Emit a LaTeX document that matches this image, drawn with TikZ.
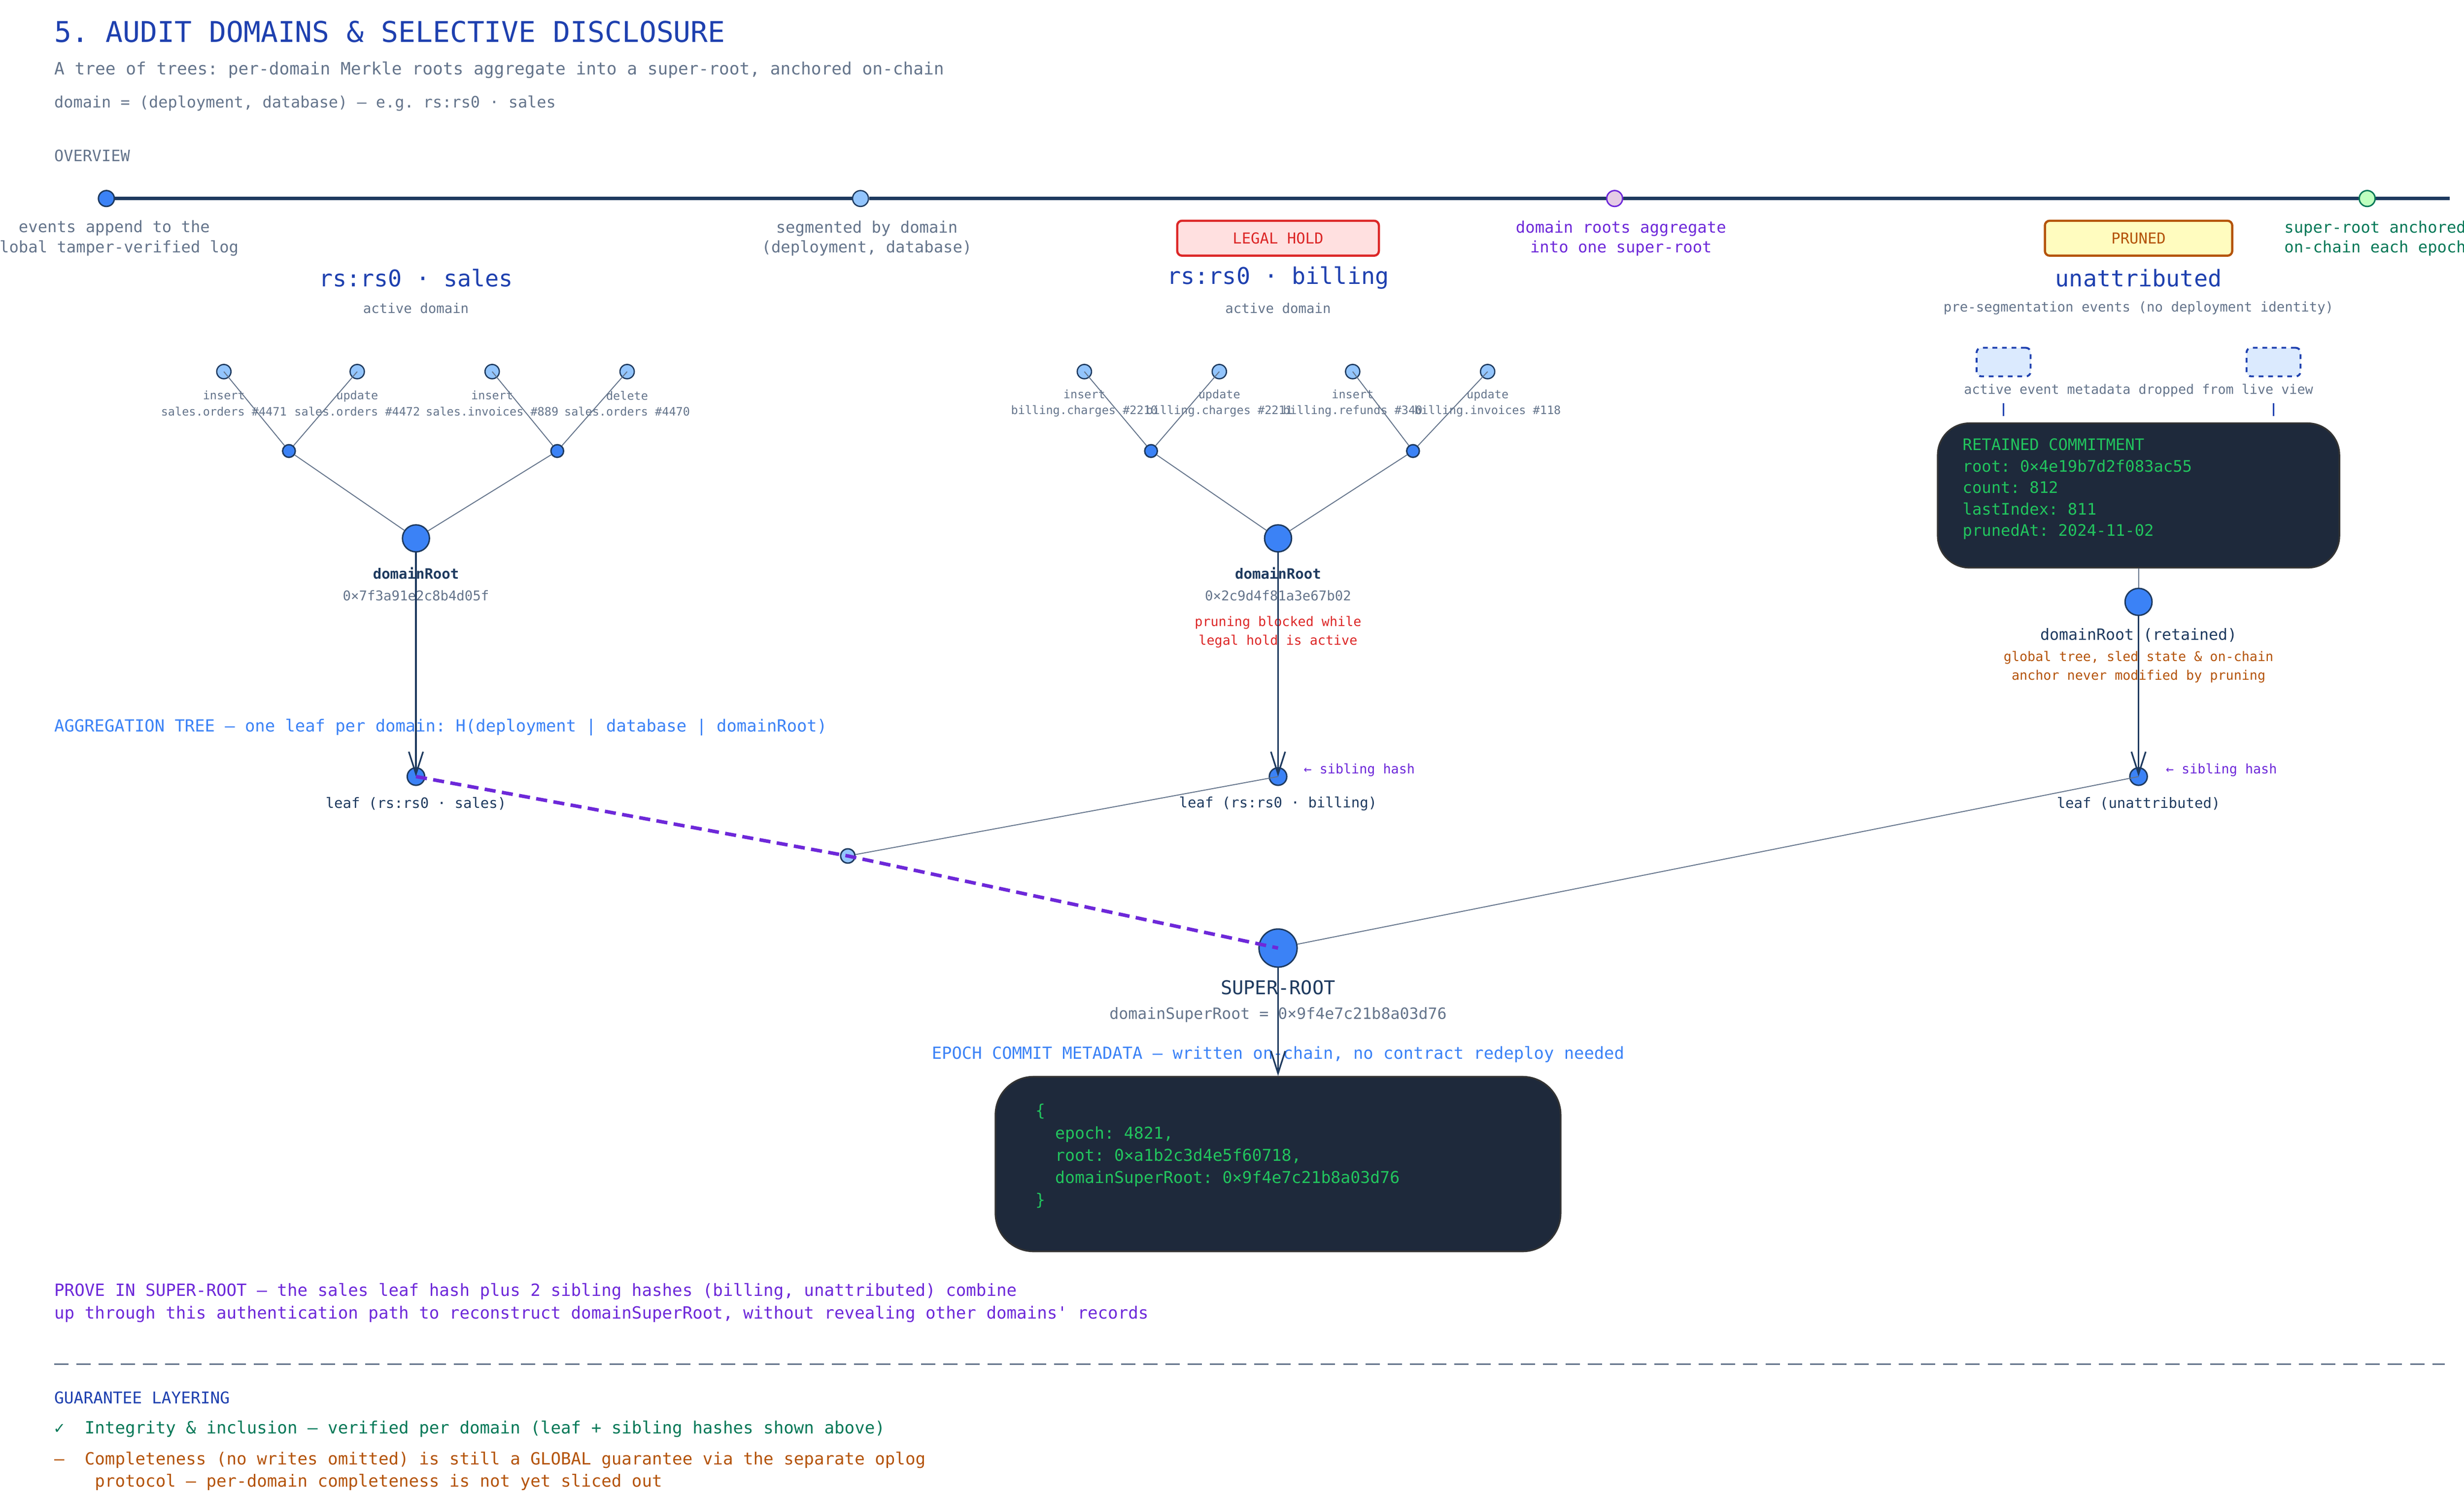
\documentclass[tikz,border=0pt]{standalone}
\usepackage{fontspec}
\setmonofont{DejaVu Sans Mono}
\usetikzlibrary{positioning,arrows.meta,calc}
\definecolor{navy}{HTML}{1E3A5F}
\definecolor{slate}{HTML}{64748B}
\definecolor{hblue}{HTML}{1E40AF}
\definecolor{nblue}{HTML}{3B82F6}
\definecolor{lblue}{HTML}{93C5FD}
\definecolor{purp}{HTML}{6D28D9}
\definecolor{dgreen}{HTML}{047857}
\definecolor{orng}{HTML}{B45309}
\definecolor{redc}{HTML}{DC2626}
\definecolor{panel}{HTML}{1E293B}
\definecolor{code}{HTML}{22C55E}
\definecolor{pale}{HTML}{DBEAFE}
\tikzset{>={Straight Barb[length=14pt,width=9pt]}}
\tikzset{
  txt/.style={font=\ttfamily\fontsize{8.5}{10}\selectfont, text=slate, inner sep=0pt, align=center},
  tiny/.style={font=\ttfamily\fontsize{7.3}{10}\selectfont, text=slate, inner sep=0pt, align=center},
  head/.style={font=\ttfamily\fontsize{11}{13}\selectfont, text=hblue, inner sep=0pt},
  dot/.style={circle, draw=navy, line width=0.9pt, fill=nblue, inner sep=0pt, minimum size=#1},
  dot/.default=9pt,
  ldot/.style={circle, draw=navy, line width=0.8pt, fill=lblue, inner sep=0pt, minimum size=9pt},
  edge/.style={draw=slate, line width=0.6pt},
  darkbox/.style={draw=black!80, line width=1pt, fill=panel, rounded corners=20pt},
  badge/.style={draw=#1, line width=1.4pt, rounded corners=3pt, minimum height=22pt, font=\ttfamily\fontsize{9.5}{10}\selectfont, text=#1},
}
\begin{document}
\begin{tikzpicture}[x=1pt,y=-1pt]
\useasboundingbox (0,0) rectangle (1552,943);
% header
\node[anchor=west, font=\ttfamily\fontsize{18}{20}\selectfont, text=hblue, inner sep=0pt] (title) at (34,20) {5. AUDIT DOMAINS \& SELECTIVE DISCLOSURE};
\node[txt, anchor=west, font=\ttfamily\fontsize{10.7}{12}\selectfont] (sub1) at (34,44) {A tree of trees: per-domain Merkle roots aggregate into a super-root, anchored on-chain};
\node[txt, anchor=west, font=\ttfamily\fontsize{9.9}{12}\selectfont] (sub2) at (34,65) {domain = (deployment, database) — e.g. rs:rs0 · sales};
\node[txt, anchor=west, font=\ttfamily\fontsize{9.9}{12}\selectfont] (ovw) at (34,98) {OVERVIEW};
% overview timeline
\coordinate (tlend) at (1543,125);
\node[dot=10pt] (t1) at (67,125) {};
\node[ldot, minimum size=10pt] (t2) at (542,125) {};
\node[dot=10pt, fill=violet!20, draw=purp] (t3) at (1017,125) {};
\node[dot=10pt, fill=green!25, draw=dgreen] (t4) at (1491,125) {};
\draw[navy, line width=2pt] (t1) -- (t2) -- (t3) -- (t4) -- (tlend);
\node[txt, font=\ttfamily\fontsize{10}{12.5}\selectfont] at (72,150) {events append to the\\global tamper-verified log};
\node[txt, font=\ttfamily\fontsize{10}{12.5}\selectfont] at (546,150) {segmented by domain\\(deployment, database)};
\node[txt, font=\ttfamily\fontsize{10}{12.5}\selectfont, text=purp] at (1021,150) {domain roots aggregate\\into one super-root};
\node[txt, font=\ttfamily\fontsize{10}{12.5}\selectfont, text=dgreen] at (1496,150) {super-root anchored\\on-chain each epoch};
\node[badge=redc, fill=red!12, minimum width=127pt] (hold) at (805,150) {LEGAL HOLD};
\node[badge=orng, fill=yellow!25, minimum width=118pt] (pruned) at (1347,150) {PRUNED};
% domain headers
\foreach \x/\n/\s in {262/rs:rs0 · sales/active domain, 805/rs:rs0 · billing/active domain, 1347/unattributed/pre-segmentation events (no deployment identity)}{
  \node[head, font=\ttfamily\fontsize{14.5}{16}\selectfont] at (\x,175) {\n};
  \node[txt] at (\x,194) {\s};
}
% sales tree
\foreach \i/\x/\a/\b in {1/141/insert/sales.orders \#4471, 2/225/update/sales.orders \#4472, 3/310/insert/sales.invoices \#889, 4/395/delete/sales.orders \#4470}{
  \node[ldot] (s\i) at (\x,234) {};
  \node[tiny] at (\x,254) {\a\\\b};
}
\foreach \i/\x/\a/\b in {1/683/insert/billing.charges \#2210, 2/768/update/billing.charges \#2211, 3/852/insert/billing.refunds \#340, 4/937/update/billing.invoices \#118}{
  \node[ldot] (b\i) at (\x,234) {};
  \node[tiny] at (\x,254) {\a\\\b};
}
\node[dot=8pt] (sa) at (182,284) {};
\node[dot=8pt] (sb) at (351,284) {};
\node[dot=8pt] (ba) at (725,284) {};
\node[dot=8pt] (bb) at (890,284) {};
\node[dot=17pt] (sroot) at (262,339) {};
\node[dot=17pt] (broot) at (805,339) {};
\draw[edge] (s1.center) -- (sa) (s2.center) -- (sa) (s3.center) -- (sb) (s4.center) -- (sb) (sa) -- (sroot) (sb) -- (sroot);
\draw[edge] (b1.center) -- (ba) (b2.center) -- (ba) (b3.center) -- (bb) (b4.center) -- (bb) (ba) -- (broot) (bb) -- (broot);
\node[txt, text=navy, font=\ttfamily\bfseries\fontsize{9}{10}\selectfont] at (262,361) {domainRoot};
\node[txt] at (262,375) {0×7f3a91e2c8b4d05f};
\node[txt, text=navy, font=\ttfamily\bfseries\fontsize{9}{10}\selectfont] at (805,361) {domainRoot};
\node[txt] at (805,375) {0×2c9d4f81a3e67b02};
\node[txt, text=redc, font=\ttfamily\fontsize{8.3}{12}\selectfont] at (805,398) {pruning blocked while\\legal hold is active};
% unattributed
\foreach \i/\x in {1/1262, 2/1432}{
  \node[draw=hblue, dashed, line width=1.2pt, fill=pale, rounded corners=3pt, minimum width=34pt, minimum height=18pt] (u\i) at (\x,228) {};
  \draw[hblue, line width=1pt] (\x,254) -- (\x,262);
}
\node[txt, font=\ttfamily\fontsize{8.3}{9}\selectfont] at (1347,246) {active event metadata dropped from live view};
\node[darkbox, minimum width=253pt, minimum height=91pt] (ret) at (1347,312) {};
\node[anchor=north west, inner sep=0pt, font=\ttfamily\fontsize{10}{13.5}\selectfont, text=code, align=left] at (1236,276) {RETAINED COMMITMENT\\root: 0×4e19b7d2f083ac55\\count: 812\\lastIndex: 811\\prunedAt: 2024-11-02};
\node[dot=17pt] (uroot) at (1347,379) {};
\draw[edge] (ret) -- (uroot);
\node[txt, text=navy, font=\ttfamily\fontsize{9.8}{10}\selectfont] at (1347,400) {domainRoot (retained)};
\node[txt, text=orng, font=\ttfamily\fontsize{8.3}{12}\selectfont] at (1347,420) {global tree, sled state \& on-chain\\anchor never modified by pruning};
% aggregation tree
\node[txt, anchor=west, text=nblue, font=\ttfamily\fontsize{10.5}{12}\selectfont] at (34,458) {AGGREGATION TREE — one leaf per domain: H(deployment | database | domainRoot)};
\node[dot=11pt] (lsales) at (262,489) {};
\node[dot=11pt] (lbill) at (805,489) {};
\node[dot=11pt] (lunat) at (1347,489) {};
\node[dot=9pt, fill=lblue] (mid) at (534,539) {};
\node[dot=24pt] (super) at (805,597) {};
\draw[->, navy, line width=1pt] (sroot) -- (lsales.center);
\draw[->, navy, line width=1pt] (broot) -- (lbill.center);
\draw[->, navy, line width=1pt] (uroot) -- (lunat.center);
\node[txt, anchor=west, text=purp, font=\ttfamily\fontsize{8.3}{9}\selectfont] at (821,485) {← sibling hash};
\node[txt, anchor=west, text=purp, font=\ttfamily\fontsize{8.3}{9}\selectfont] at (1364,485) {← sibling hash};
\node[txt, text=navy, font=\ttfamily\fontsize{9}{10}\selectfont] at (262,506) {leaf (rs:rs0 · sales)};
\node[txt, text=navy, font=\ttfamily\fontsize{9}{10}\selectfont] at (805,506) {leaf (rs:rs0 · billing)};
\node[txt, text=navy, font=\ttfamily\fontsize{9}{10}\selectfont] at (1347,506) {leaf (unattributed)};
\draw[edge] (lbill.center) -- (mid) (lunat.center) -- (super);
\draw[purp, line width=2.2pt, dash pattern=on 7pt off 4pt] (lsales.center) -- (mid.center) -- (super.center);
\node[txt, text=navy, font=\ttfamily\fontsize{12}{13}\selectfont] at (805,622) {SUPER-ROOT};
\node[txt, font=\ttfamily\fontsize{9.8}{11}\selectfont] at (805,639) {domainSuperRoot = 0×9f4e7c21b8a03d76};
\node[txt, text=nblue, font=\ttfamily\fontsize{10.5}{12}\selectfont] at (805,664) {EPOCH COMMIT METADATA — written on-chain, no contract redeploy needed};
\node[darkbox, minimum width=356pt, minimum height=110pt, rounded corners=24pt] (epoch) at (805,733) {};
\draw[->, navy, line width=1pt] (super) -- (epoch.north);
\node[anchor=north west, inner sep=0pt, font=\ttfamily\fontsize{10.3}{14}\selectfont, text=code, align=left] at (652,695) {\{\\\ \ epoch: 4821,\\\ \ root: 0×a1b2c3d4e5f60718,\\\ \ domainSuperRoot: 0×9f4e7c21b8a03d76\\\}};
% footer
\node[txt, anchor=north west, text=purp, align=left, font=\ttfamily\fontsize{10.6}{14}\selectfont] at (34,808) {PROVE IN SUPER-ROOT — the sales leaf hash plus 2 sibling hashes (billing, unattributed) combine\\up through this authentication path to reconstruct domainSuperRoot, without revealing other domains' records};
\coordinate (dl) at (34,859);
\coordinate (dr) at (1540,859);
\draw[slate, line width=1pt, dash pattern=on 9pt off 5pt] (dl) -- (dr);
\node[txt, anchor=west, text=hblue, font=\ttfamily\fontsize{10.2}{12}\selectfont] at (34,880) {GUARANTEE LAYERING};
\node[txt, anchor=west, text=dgreen, font=\ttfamily\fontsize{10.6}{12}\selectfont] at (34,900) {✓\ \ Integrity \& inclusion — verified per domain (leaf + sibling hashes shown above)};
\node[txt, anchor=north west, text=orng, align=left, font=\ttfamily\fontsize{10.6}{14}\selectfont] at (34,914) {–\ \ Completeness (no writes omitted) is still a GLOBAL guarantee via the separate oplog\\\ \ \ \ protocol — per-domain completeness is not yet sliced out};
\end{tikzpicture}
\end{document}
